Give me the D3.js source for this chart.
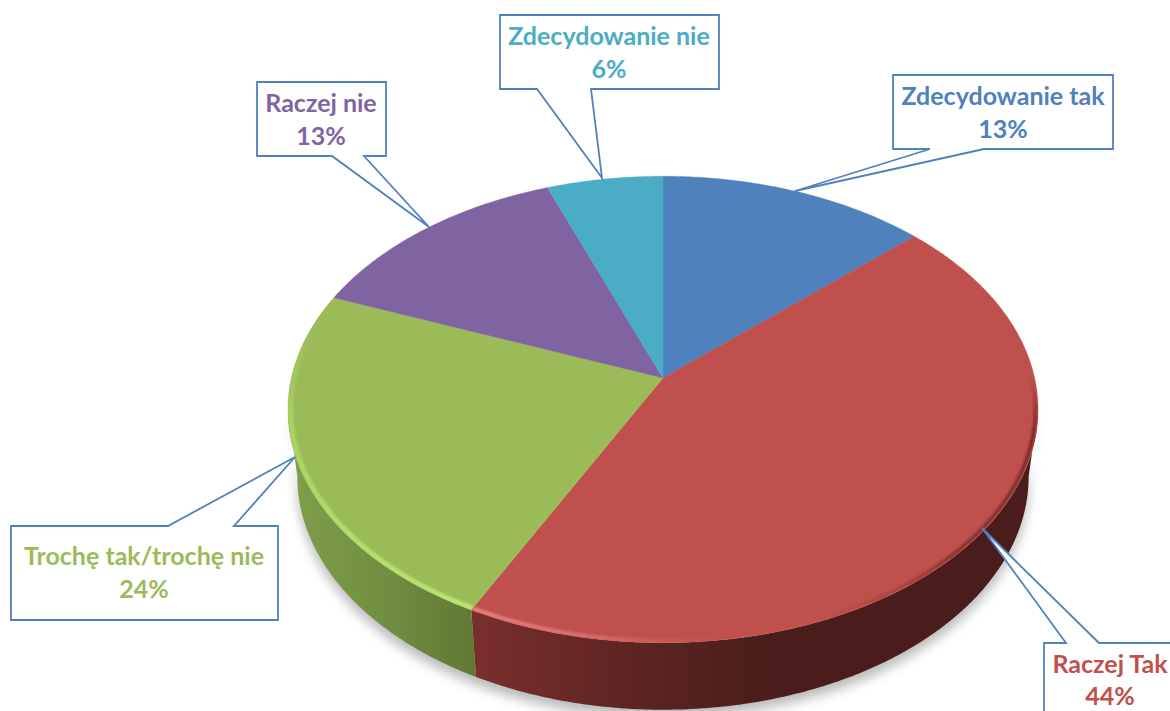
<!DOCTYPE html>
<html><head><meta charset="utf-8">
<script src="https://cdn.jsdelivr.net/npm/d3@7/dist/d3.min.js"></script>
<style>html,body{margin:0;padding:0;background:#fff;overflow:hidden}svg{display:block}text{font-family:Lato,"Open Sans",sans-serif;font-weight:700;text-anchor:middle}</style>
</head><body><svg id="c" width="1170" height="711"></svg>
<script>
const categories=["Zdecydowanie tak","Raczej Tak","Trochę tak/trochę nie","Raczej nie","Zdecydowanie nie"];
const values=[13.2,44.3,23.5,13.3,5.7];
const colors=["#4f81bd","#c0504d","#9bbb59","#8064a2","#4bacc6"];

// layout: perspective disc and callouts
const cx=663,apexY=378,persp=0.135,S=229,R=371.6,depth=67,bottomScale=0.975,ellipseCy=410;
const boxes=[
 {x0:893,x1:1113,y0:75,y1:149,t0:930,t1:984,tip:[795,191],side:"bottom",tx:1003,b1:105,b2:138},
 {x0:1044,x1:1190,y0:643,y1:730,t0:1066,t1:1099,tip:[982,528],side:"top",tx:1110,b1:673,b2:705},
 {x0:11,x1:278,y0:526,y1:620,t0:168,t1:234,tip:[295,457],side:"top",tx:144,b1:565,b2:598},
 {x0:257,x1:386,y0:82,y1:156,t0:332,t1:364,tip:[429,227],side:"bottom",tx:321,b1:112,b2:145},
 {x0:500,x1:719,y0:15,y1:89,t0:537,t1:591,tip:[602,178],side:"bottom",tx:609,b1:45,b2:78}
];

const svg=d3.select("#c");
const defs=svg.append("defs");
const project=a=>{const u=Math.sin(a),v=-Math.cos(a),w=1-persp*v;return [cx+R*u/w,apexY+S*v/w];};
const lower=p=>[cx+(p[0]-cx)*bottomScale,ellipseCy+depth+(p[1]-ellipseCy)];
const arcPts=(a0,a1)=>{const n=Math.max(2,Math.ceil(Math.abs(a1-a0)/0.01));return d3.range(n+1).map(i=>project(a0+(a1-a0)*i/n));};
const line=d3.line();
const arcs=d3.pie().sort(null).value(d=>d)(values);
const redA=arcs[1],greenA=arcs[2];
const sideR=Math.acos(-persp),sideL=2*Math.PI-sideR;

const grad=(id,x1,y1,x2,y2,stops)=>{const g=defs.append("linearGradient").attr("id",id).attr("gradientUnits","userSpaceOnUse").attr("x1",x1).attr("y1",y1).attr("x2",x2).attr("y2",y2);
 stops.forEach(s=>g.append("stop").attr("offset",s[0]).attr("stop-color",s[1]).attr("stop-opacity",s[2]===undefined?1:s[2]));};
grad("wallRed",472,0,800,0,[[0,"#7a2f2d"],[0.35,"#652725"],[0.85,"#4b1e1c"],[1,"#4a1d1c"]]);
grad("wallGreen",287,0,472,0,[[0,"#7f9f4b"],[0.5,"#728f42"],[1,"#617934"]]);
grad("rimRedLight",472,0,760,0,[[0,"#ea8683",1],[0.45,"#dc7370",0.8],[1,"#c0504d",0]]);
grad("rimRedDark",0,375,0,660,[[0,"#6a2523",0],[0.2,"#6a2523",0.9],[0.62,"#7a2c2a",0.85],[0.85,"#7a2c2a",0]]);
grad("rimGreen",0,330,0,620,[[0,"#9bbb59"],[0.3,"#a9d360"],[1,"#bce678"]]);
defs.append("filter").attr("id","soft").attr("x","-10%").attr("y","-10%").attr("width","120%").attr("height","120%").append("feGaussianBlur").attr("stdDeviation",6);
defs.append("filter").attr("id","rimBlur").attr("filterUnits","userSpaceOnUse").attr("x",0).attr("y",0).attr("width",1170).attr("height",711).append("feGaussianBlur").attr("stdDeviation",1.3);

const wallPts=(a0,a1)=>{const t=arcPts(a0,a1);return t.concat(t.slice().reverse().map(lower));};
// drop shadow
svg.append("path").attr("d",line(wallPts(sideR,sideL))+"Z").attr("fill","#000").attr("opacity",0.27)
  .attr("transform","translate(0,8)").attr("filter","url(#soft)");
// side walls
svg.append("path").attr("d",line(wallPts(sideR,redA.endAngle))+"Z").attr("fill","url(#wallRed)");
svg.append("path").attr("d",line(wallPts(greenA.startAngle,sideL))+"Z").attr("fill","url(#wallGreen)");
// top faces
const apex=[cx,apexY];
arcs.forEach((d,i)=>{
  const pts=[apex].concat(arcPts(d.startAngle,d.endAngle));
  const dd=line(pts)+"Z";
  defs.append("clipPath").attr("id","cl"+i).append("path").attr("d",dd);
  svg.append("path").attr("d",dd).attr("fill",colors[i]).attr("stroke",colors[i]).attr("stroke-width",0.4);
});
// bevel rims
const inset=p=>[apex[0]+(p[0]-apex[0])*0.993,apex[1]+(p[1]-apex[1])*0.993];
const rim=(i,a0,a1,paint,w)=>svg.append("g").attr("clip-path","url(#cl"+i+")").append("path")
  .attr("d",line(arcPts(a0,a1).map(inset))).attr("fill","none").attr("stroke",paint).attr("stroke-width",w).attr("filter","url(#rimBlur)");
rim(1,redA.startAngle,redA.endAngle,"url(#rimRedDark)",3.5);
rim(1,redA.endAngle-0.9,redA.endAngle,"url(#rimRedLight)",4);
rim(2,greenA.startAngle,greenA.endAngle,"url(#rimGreen)",5);
// callouts
boxes.forEach((b,i)=>{
  const p=b.side==="bottom"
   ?[[b.x0,b.y0],[b.x1,b.y0],[b.x1,b.y1],[b.t1,b.y1],b.tip,[b.t0,b.y1],[b.x0,b.y1]]
   :[[b.x0,b.y0],[b.t0,b.y0],b.tip,[b.t1,b.y0],[b.x1,b.y0],[b.x1,b.y1],[b.x0,b.y1]];
  svg.append("path").attr("d",line(p)+"Z").attr("fill","#fff").attr("stroke","#4f81bd").attr("stroke-width",1.8).attr("stroke-linejoin","miter");
  const t=svg.append("text").attr("fill",colors[i]).attr("font-size",25);
  t.append("tspan").attr("x",b.tx).attr("y",b.b1).text(categories[i]);
  t.append("tspan").attr("x",b.tx).attr("y",b.b2).text(d3.format(".0f")(values[i])+"%");
});
</script></body></html>
